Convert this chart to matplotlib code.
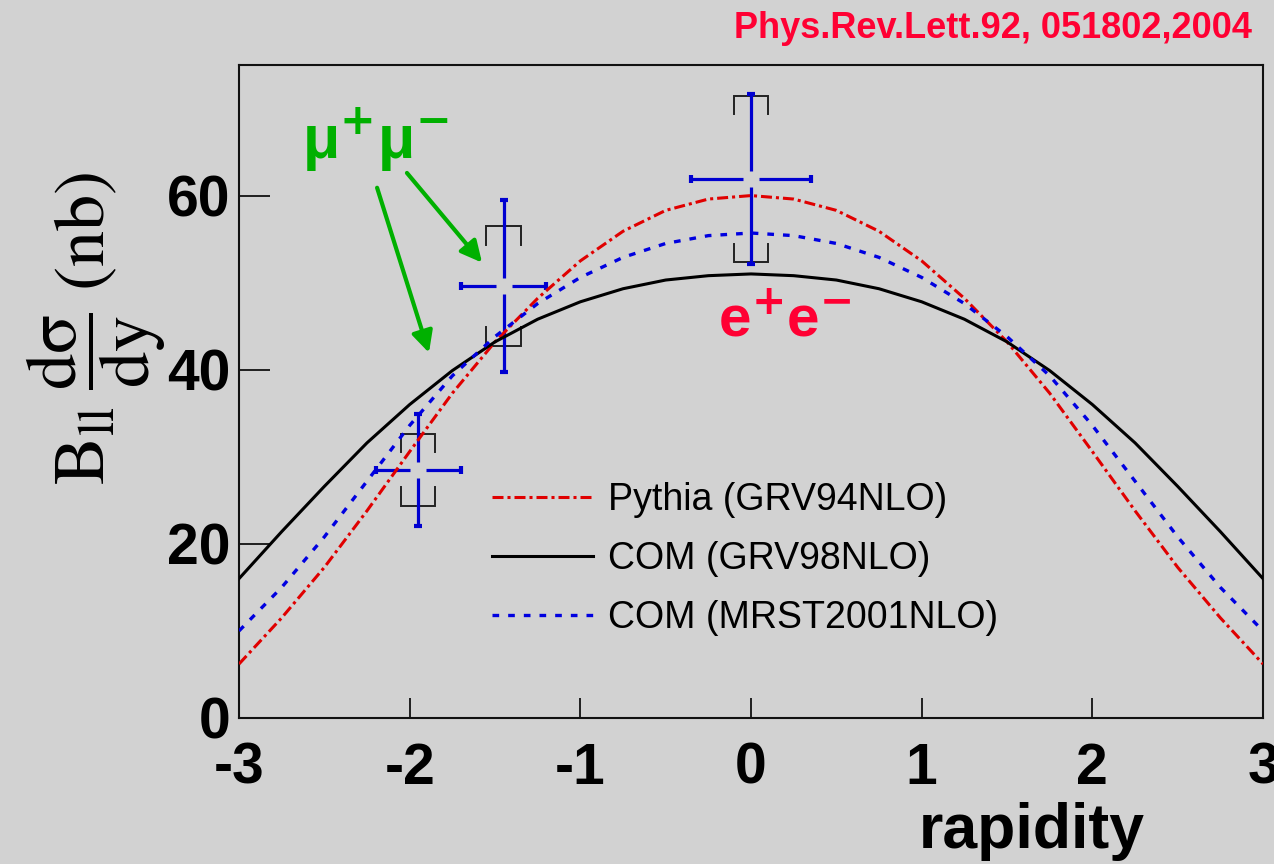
import numpy as np
import matplotlib
matplotlib.use("Agg")
import matplotlib.pyplot as plt

# --- data -------------------------------------------------------------
rapidity = [-3.0, -2.75, -2.5, -2.25, -2.0, -1.75, -1.5, -1.25, -1.0, -0.75, -0.5, -0.25,
            0.0, 0.25, 0.5, 0.75, 1.0, 1.25, 1.5, 1.75, 2.0, 2.25, 2.5, 2.75, 3.0]

pythia_grv94 = [6.2, 11.5, 17.3, 23.8, 30.6, 37.3, 43.2, 48.2, 52.5, 55.9, 58.3, 59.6,
                60.0, 59.6, 58.3, 55.9, 52.5, 48.2, 43.2, 37.3, 30.6, 23.8, 17.3, 11.5, 6.2]
com_grv98 = [16.0, 21.4, 26.6, 31.6, 36.0, 39.9, 43.2, 45.8, 47.8, 49.3, 50.3, 50.8,
             51.0, 50.8, 50.3, 49.3, 47.8, 45.8, 43.2, 39.9, 36.0, 31.6, 26.6, 21.4, 16.0]
com_mrst2001 = [10.0, 15.0, 20.8, 27.2, 33.6, 39.3, 43.8, 47.6, 50.6, 52.9, 54.5, 55.4,
                55.7, 55.4, 54.5, 52.9, 50.6, 47.6, 43.8, 39.3, 33.6, 27.2, 20.8, 15.0, 10.0]

meas_y = [-1.95, -1.45, 0.0]          # rapidity of the measurements
meas_val = [28.5, 49.6, 61.9]         # B_ll dsigma/dy (nb)
meas_yerr = [0.25, 0.25, 0.35]        # rapidity bin half-width
meas_stat = [6.4, 9.9, 9.8]           # statistical error
meas_sys = [4.1, 6.85, 9.55]          # systematic error

legend_labels = ["Pythia (GRV94NLO)", "COM (GRV98NLO)", "COM (MRST2001NLO)"]
x_ticks = [-3, -2, -1, 0, 1, 2, 3]
y_ticks = [0, 20, 40, 60]

# --- style ------------------------------------------------------------
BG = "#d2d2d2"
RED_CURVE = "#e00000"
BLUE_CURVE = "#0000e0"
BLUE_PTS = "#0000d0"
GREEN = "#00b000"
LABEL_RED = "#ff0033"

fig = plt.figure(figsize=(12.74, 8.64), dpi=100, facecolor=BG)
ax = fig.add_axes([0.1876, 0.169, 0.8038, 0.7558], facecolor=BG)
ax.set_xlim(-3, 3)
ax.set_ylim(0, 75)

# systematic brackets
bw, arm = 0.1, 2.1
for x, v, s in zip(meas_y, meas_val, meas_sys):
    hi, lo = v + s, v - s
    ax.plot([x - bw, x - bw, x + bw, x + bw], [hi - arm, hi, hi, hi - arm],
            color="#222222", lw=1.4, zorder=2, solid_joinstyle="miter")
    ax.plot([x - bw, x - bw, x + bw, x + bw], [lo + arm, lo, lo, lo + arm],
            color="#222222", lw=1.4, zorder=2, solid_joinstyle="miter")

# statistical error bars with an open centre
ax.errorbar(meas_y, meas_val, xerr=meas_yerr, yerr=meas_stat, fmt="none",
            ecolor=BLUE_PTS, elinewidth=2.3, capsize=3, capthick=3, zorder=3)
ax.plot(meas_y, meas_val, ls="none", marker="s", ms=11.5, mfc=BG, mec="none", zorder=3.5)

# theory curves
l_red, = ax.plot(rapidity, pythia_grv94, color=RED_CURVE, lw=2.2,
                 dashes=(3.6, 1.3, 1.0, 1.3), zorder=5)
l_blk, = ax.plot(rapidity, com_grv98, color="black", lw=2.2, zorder=5)
l_blu, = ax.plot(rapidity, com_mrst2001, color=BLUE_CURVE, lw=2.4,
                 dashes=(2.0, 2.7), zorder=5)

# axes styling
for sp in ax.spines.values():
    sp.set_linewidth(1.5)
    sp.set_color("#111111")
ax.set_xticks(x_ticks)
ax.set_yticks(y_ticks)
ax.set_xticklabels([str(t) for t in x_ticks])
ax.set_yticklabels([str(t) for t in y_ticks])
ax.tick_params(axis="x", direction="in", length=14.4, width=1.2, pad=17,
               labelsize=41)
ax.tick_params(axis="y", direction="in", length=22, width=1.2, pad=6,
               labelsize=41)
for lab in ax.get_xticklabels() + ax.get_yticklabels():
    lab.set_fontfamily("Liberation Sans")
    lab.set_fontweight("bold")

# legend
leg = ax.legend([l_red, l_blk, l_blu], legend_labels, loc="center left",
                bbox_to_anchor=(492 / 1274, 1 - 559 / 864), bbox_transform=fig.transFigure,
                frameon=False, borderpad=0, borderaxespad=0, handlelength=2.7,
                handletextpad=0.4, labelspacing=0.62,
                prop={"family": "Liberation Sans", "size": 27})

# axis titles
fig.text(1145 / 1274, 1 - 848 / 864, "rapidity", ha="right", va="baseline",
         fontsize=45, fontweight="bold", family="Liberation Sans")
fig.text(96 / 1274, 1 - 328 / 864,
         r"$\mathrm{B_{ll}}\;\dfrac{\mathrm{d\sigma}}{\mathrm{dy}}\;(\mathrm{nb})$",
         rotation=90, ha="center", va="center", fontsize=52, math_fontfamily="stix")

# reference note
fig.text(1252 / 1274, 1 - 38 / 864, "Phys.Rev.Lett.92, 051802,2004", ha="right",
         va="baseline", fontsize=26, fontweight="bold", color=LABEL_RED,
         family=["Liberation Sans Narrow", "Liberation Sans"])

# channel annotations
ax.text(-2.2, 66.3, r"μ$^{\mathbf{+}}$μ$^{\mathbf{-}}$", ha="center", va="center",
        fontsize=44, fontweight="bold", color=GREEN, family="Liberation Sans")
ax.text(0.2, 45.6, r"e$^{\mathbf{+}}$e$^{\mathbf{-}}$", ha="center", va="center",
        fontsize=42, fontweight="bold", color=LABEL_RED, family="Liberation Sans")

arrow_kw = dict(arrowstyle="-|>", color=GREEN, lw=3, mutation_scale=32,
                shrinkA=0, shrinkB=0)
ax.annotate("", xy=(-1.887, 41.95), xytext=(-2.191, 60.9), arrowprops=arrow_kw)
ax.annotate("", xy=(-1.576, 52.3), xytext=(-2.016, 62.6), arrowprops=arrow_kw)

fig.savefig("out.png", dpi=100, facecolor=BG)
